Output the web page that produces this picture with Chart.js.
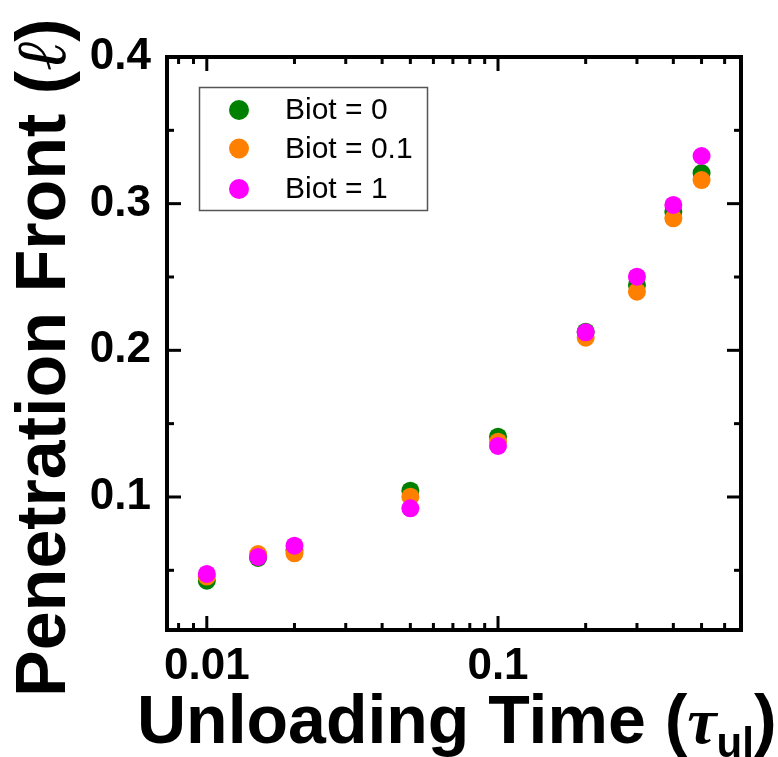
<!DOCTYPE html>
<html>
<head>
<meta charset="utf-8">
<script src="https://cdn.jsdelivr.net/npm/chart.js@4.4.0/dist/chart.umd.min.js"></script>
<style>
    html, body { margin: 0; padding: 0; background: #fff; overflow: hidden; }
</style>
</head>
<body>
<canvas id="chartCanvas" width="778" height="757"></canvas>
<script>
// Penetration front vs unloading time, one series per Biot number
const unloadingTimes = [0.01, 0.015, 0.02, 0.05, 0.1, 0.2, 0.3, 0.4, 0.5];
const frontBiot0 = [0.0429, 0.0584, 0.0639, 0.1043, 0.1411, 0.2127, 0.2446, 0.2945, 0.3209];
const frontBiot01 = [0.0457, 0.0611, 0.0616, 0.1002, 0.1377, 0.2086, 0.2400, 0.2900, 0.3161];
const frontBiot1 = [0.0475, 0.0591, 0.0668, 0.0923, 0.1348, 0.2123, 0.2502, 0.2991, 0.3325];

const seriesLabels = ['Biot = 0', 'Biot = 0.1', 'Biot = 1'];
const seriesColors = ['#008000', '#ff8000', '#ff00ff'];

const xTickLabels = [0.01, 0.1];
const xMinorTicks = [0.008, 0.009, 0.02, 0.03, 0.04, 0.05, 0.06, 0.07, 0.08, 0.09, 0.2, 0.3, 0.4, 0.5, 0.6];
const yTickLabels = [0.1, 0.2, 0.3, 0.4];
const yMinorTicks = [0.05, 0.15, 0.25, 0.35];

const SANS = '"Liberation Sans", Arial, sans-serif';
const SERIF = '"Liberation Serif", "DejaVu Serif", serif';

const toPoints = (ys) => unloadingTimes.map((x, i) => ({ x, y: ys[i] }));

const makeDataset = (ys, idx) => ({
    label: seriesLabels[idx],
    data: toPoints(ys),
    backgroundColor: seriesColors[idx],
    borderWidth: 0,
    pointRadius: 9,
    pointHoverRadius: 9,
    // last series sits on top
    order: 3 - idx,
});

// Box around the plot with inward ticks on all four sides
const frameTicks = {
    id: 'frameTicks',
    afterDatasetsDraw(chart) {
        const { ctx, chartArea: a, scales } = chart;
        const xs = scales.x;
        const ys = scales.y;
        ctx.save();
        ctx.strokeStyle = '#000';
        ctx.lineCap = 'butt';

        const tick = (x1, y1, x2, y2) => {
            ctx.beginPath();
            ctx.moveTo(x1, y1);
            ctx.lineTo(x2, y2);
            ctx.stroke();
        };

        ctx.lineWidth = 3;
        const xMarks = [...xTickLabels.map((v) => [v, 14]), ...xMinorTicks.map((v) => [v, 7])];
        xMarks.forEach(([v, len]) => {
            const px = xs.getPixelForValue(v);
            tick(px, a.bottom, px, a.bottom - len);
            tick(px, a.top, px, a.top + len);
        });
        const yMarks = [...yTickLabels.map((v) => [v, 14]), ...yMinorTicks.map((v) => [v, 7])];
        yMarks.forEach(([v, len]) => {
            const py = ys.getPixelForValue(v);
            tick(a.left, py, a.left + len, py);
            tick(a.right, py, a.right - len, py);
        });

        ctx.lineWidth = 4;
        ctx.strokeRect(a.left, a.top, a.right - a.left, a.bottom - a.top);
        ctx.restore();
    },
};

// Legend box inside the plot area
const insideLegend = {
    id: 'insideLegend',
    afterDraw(chart) {
        const { ctx } = chart;
        ctx.save();
        ctx.strokeStyle = '#555';
        ctx.lineWidth = 1.5;
        ctx.strokeRect(199.5, 87.5, 228, 123);
        const rows = [110, 148.5, 189];
        chart.data.datasets.forEach((ds, i) => {
            ctx.fillStyle = ds.backgroundColor;
            ctx.beginPath();
            ctx.arc(239, rows[i], 10, 0, Math.PI * 2);
            ctx.fill();
            ctx.fillStyle = '#000';
            ctx.font = `30px ${SANS}`;
            ctx.textBaseline = 'middle';
            ctx.textAlign = 'left';
            ctx.fillText(ds.label, 285, rows[i] + 1);
        });
        ctx.restore();
    },
};

// Axis titles, drawn piecewise for the greek letter, script ell and subscript
const axisTitles = {
    id: 'axisTitles',
    afterDraw(chart) {
        const { ctx } = chart;
        ctx.save();
        ctx.fillStyle = '#000';
        ctx.textBaseline = 'alphabetic';
        ctx.textAlign = 'left';

        const parts = (pieces) => {
            let x = 0;
            pieces.forEach(([text, font, dy]) => {
                ctx.font = font;
                ctx.fillText(text, x, dy);
                x += ctx.measureText(text).width;
            });
        };

        // x title
        ctx.save();
        ctx.translate(137, 743);
        parts([
            ['Unloading Time (', `bold 68px ${SANS}`, 0],
            ['\u03c4', `italic bold 66px ${SERIF}`, 0],
            ['ul', `bold 42px ${SANS}`, 14],
            [')', `bold 68px ${SANS}`, 0],
        ]);
        ctx.restore();

        // y title
        ctx.save();
        ctx.translate(65, 697);
        ctx.rotate(-Math.PI / 2);
        parts([
            ['Penetration Front (', `bold 70px ${SANS}`, 0],
            ['\u2113', `italic 70px ${SERIF}`, 0],
            [')', `bold 70px ${SANS}`, 0],
        ]);
        ctx.restore();

        ctx.restore();
    },
};

const ctx = document.getElementById('chartCanvas').getContext('2d');
new Chart(ctx, {
    type: 'scatter',
    data: {
        datasets: [
            makeDataset(frontBiot0, 0),
            makeDataset(frontBiot01, 1),
            makeDataset(frontBiot1, 2),
        ],
    },
    options: {
        responsive: false,
        animation: false,
        devicePixelRatio: 1,
        layout: { padding: { top: 57, right: 37, left: 0, bottom: 0 } },
        plugins: {
            legend: { display: false },
            tooltip: { enabled: false },
        },
        scales: {
            x: {
                type: 'logarithmic',
                position: 'bottom',
                min: 0.0073,
                max: 0.683,
                grid: { display: false, drawTicks: false },
                border: { display: false },
                ticks: {
                    color: '#000',
                    font: { family: SANS, size: 44, weight: 'bold' },
                    padding: 10,
                    maxRotation: 0,
                    autoSkip: false,
                    callback: (v) => String(v),
                },
                afterBuildTicks: (scale) => {
                    scale.ticks = xTickLabels.map((value) => ({ value }));
                },
                afterFit: (scale) => {
                    scale.height = 127;
                },
            },
            y: {
                type: 'linear',
                position: 'left',
                min: 0.0093,
                max: 0.4,
                grid: { display: false, drawTicks: false },
                border: { display: false },
                ticks: {
                    color: '#000',
                    font: { family: SANS, size: 44, weight: 'bold' },
                    padding: 16,
                    callback: (v) => v.toFixed(1),
                },
                afterBuildTicks: (scale) => {
                    scale.ticks = yTickLabels.map((value) => ({ value }));
                },
                afterFit: (scale) => {
                    scale.width = 167;
                },
            },
        },
    },
    plugins: [frameTicks, insideLegend, axisTitles],
});
</script>
</body>
</html>
